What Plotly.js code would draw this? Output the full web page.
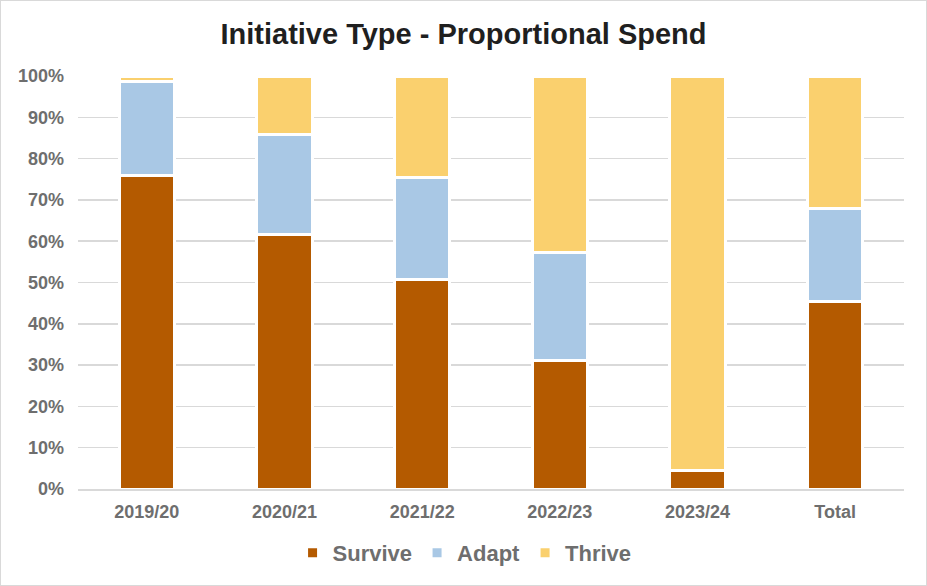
<!DOCTYPE html>
<html>
<head>
<meta charset="utf-8">
<script src="https://cdn.plot.ly/plotly-3.0.1.min.js"></script>
<style>
  html, body { margin: 0; padding: 0; background: #ffffff; }
  #chart { width: 925px; height: 584px; border: 1px solid #d9d9d9; }
</style>
</head>
<body>
<div id="chart"></div>
<script>
const categories = ["2019/20", "2020/21", "2021/22", "2022/23", "2023/24", "Total"];
const survive = [0.759, 0.617, 0.508, 0.310, 0.044, 0.454];
const adapt   = [0.227, 0.241, 0.246, 0.263, 0.000, 0.224];
const thrive  = [0.014, 0.142, 0.246, 0.427, 0.956, 0.322];
const seriesNames = ["Survive", "Adapt", "Thrive"];
const seriesColors = ["#b45a00", "#a9c8e5", "#fad06e"];

const seriesValues = [survive, adapt, thrive];
const traces = seriesValues.map((vals, i) => ({
  type: "bar",
  name: seriesNames[i],
  x: categories,
  y: vals,
  width: 0.40,
  marker: { color: seriesColors[i], line: { color: "#ffffff", width: 3 } },
  hoverinfo: "x+y+name"
}));

const tickFont = { family: "Liberation Sans, Arial, sans-serif", size: 18, color: "#6e6e6e", weight: "bold" };

const layout = {
  width: 925,
  height: 584,
  paper_bgcolor: "#ffffff",
  plot_bgcolor: "#ffffff",
  barmode: "stack",
  margin: { l: 77, r: 22, t: 75, b: 95, pad: 0 },
  title: {
    text: "<b>Initiative Type - Proportional Spend</b>",
    font: { family: "Liberation Sans, Arial, sans-serif", size: 29, color: "#1f1f1f" },
    x: 0.5, xanchor: "center", xref: "container",
    y: 0.943, yanchor: "middle", yref: "container"
  },
  xaxis: {
    type: "category",
    tickfont: tickFont,
    showgrid: false,
    showline: true,
    linecolor: "#d9d9d9",
    linewidth: 1.5,
    ticks: "",
    ticklabelstandoff: 6,
    fixedrange: true
  },
  yaxis: {
    range: [0, 1],
    dtick: 0.1,
    tick0: 0,
    tickformat: ".0%",
    tickfont: tickFont,
    showgrid: true,
    gridcolor: "#d9d9d9",
    gridwidth: 1.5,
    zeroline: false,
    ticks: "",
    ticklabelstandoff: 13,
    fixedrange: true
  },
  showlegend: true,
  legend: {
    orientation: "h",
    x: 0.468, xanchor: "center",
    y: -0.152, yanchor: "middle",
    font: { family: "Liberation Sans, Arial, sans-serif", size: 22, color: "#6e6e6e", weight: "bold" },
    traceorder: "normal",
    itemwidth: 30,
    bgcolor: "rgba(0,0,0,0)"
  },
  bargap: 0.6
};

Plotly.newPlot("chart", traces, layout, { displayModeBar: false, staticPlot: true });
</script>
</body>
</html>
